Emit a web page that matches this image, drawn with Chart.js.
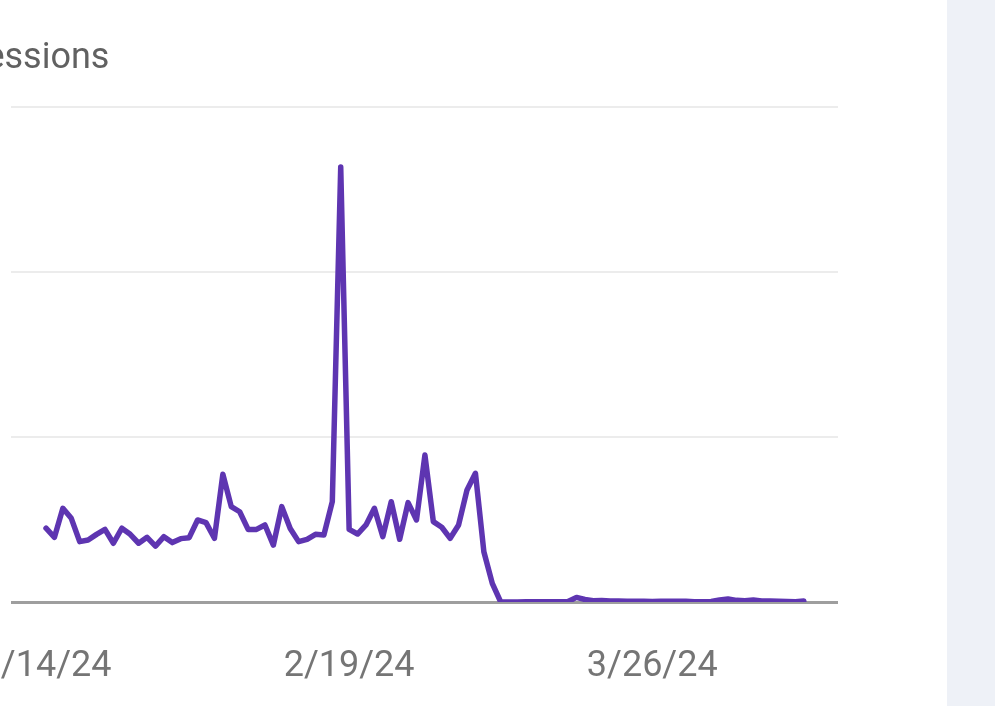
<!DOCTYPE html>
<html>
<head>
<meta charset="utf-8">
<script src="https://cdn.jsdelivr.net/npm/chart.js@4"></script>
<style>
  html, body { margin: 0; padding: 0; background: #fff; overflow: hidden; }
  #wrap { position: relative; width: 995px; height: 706px; }
  #chartBox { position: absolute; left: 0; top: 0; width: 946px; height: 706px; }
  #side { position: absolute; left: 947px; top: 0; width: 48px; height: 706px; background: #eef1f7; }
  #title { position: absolute; left: -88px; top: 35px; font: 36px Roboto, sans-serif; color: #616161; white-space: nowrap; }
</style>
</head>
<body>
<div id="wrap">
  <div id="chartBox"><canvas id="lineChart"></canvas></div>
  <div id="title">Impressions</div>
  <div id="side"></div>
</div>
<script>
// one value per day, starting 1/14/24
const impressions = [
  44.7, 39.2, 56.8, 50.7, 36.6, 37.6, 41.0, 44.0, 35.6, 44.7,
  41.0, 35.6, 39.2, 33.9, 39.6, 36.0, 38.4, 39.0, 49.7, 48.1,
  38.6, 77.4, 57.8, 54.7, 44.0, 44.0, 46.7, 34.5, 57.8, 44.6,
  36.6, 38.0, 41.0, 40.6, 60.8, 263.6, 44.0, 41.2, 46.7, 56.8,
  39.6, 60.8, 38.0, 60.2, 49.7, 89.1, 48.7, 45.3, 38.6, 46.7,
  67.9, 78.0, 30.5, 11.3, 0, 0, 0, 0.2, 0.1, 0.1,
  0.2, 0.2, 0.3, 2.8, 1.5, 0.8, 0.9, 0.6, 0.6, 0.5,
  0.5, 0.4, 0.3, 0.5, 0.4, 0.5, 0.4, 0.2, 0.2, 0.3,
  1.2, 1.8, 1.0, 0.8, 1.2, 0.6, 0.6, 0.5, 0.3, 0.2,
  0.6
];
const tickDays = [0, 36, 72];
const tickLabels = ["1/14/24", "2/19/24", "3/26/24"];
const yGrid = [0, 100, 200, 300];

document.addEventListener("DOMContentLoaded", () => {
  new Chart(document.querySelector("#lineChart"), {
    type: "line",
    data: {
      datasets: [{
        label: "Impressions",
        data: impressions.map((v, i) => ({ x: i, y: v })),
        borderColor: "#5e35b1",
        borderWidth: 5.5,
        pointRadius: 0,
        tension: 0,
        borderJoinStyle: "round",
        borderCapStyle: "round"
      }]
    },
    options: {
      responsive: true,
      maintainAspectRatio: false,
      animation: false,
      layout: { padding: { left: 11, right: 108, top: 107, bottom: 0 } },
      plugins: { legend: { display: false }, tooltip: { enabled: false } },
      scales: {
        x: {
          type: "linear",
          min: -4.16,
          max: 94.06,
          grid: { display: false, drawTicks: false, tickLength: 0 },
          border: { display: false },
          afterBuildTicks: (axis) => { axis.ticks = tickDays.map(v => ({ value: v })); },
          afterFit: (axis) => {
            axis.height = 104;
            axis.paddingLeft = 0;
            axis.paddingRight = 0;
          },
          ticks: {
            maxRotation: 0,
            autoSkip: false,
            padding: 43,
            color: "#757575",
            font: { family: "Roboto", size: 36 },
            callback: (v) => tickLabels[tickDays.indexOf(v)]
          }
        },
        y: {
          min: 0,
          max: 300,
          afterBuildTicks: (axis) => { axis.ticks = yGrid.map(v => ({ value: v })); },
          afterFit: (axis) => { axis.width = 0; },
          ticks: { display: false },
          border: { display: false },
          grid: {
            drawTicks: false,
            color: (c) => c.tick && c.tick.value === 0 ? "#9e9e9e" : "#ececec",
            lineWidth: (c) => c.tick && c.tick.value === 0 ? 3 : 2
          }
        }
      }
    }
  });
});
</script>
</body>
</html>
